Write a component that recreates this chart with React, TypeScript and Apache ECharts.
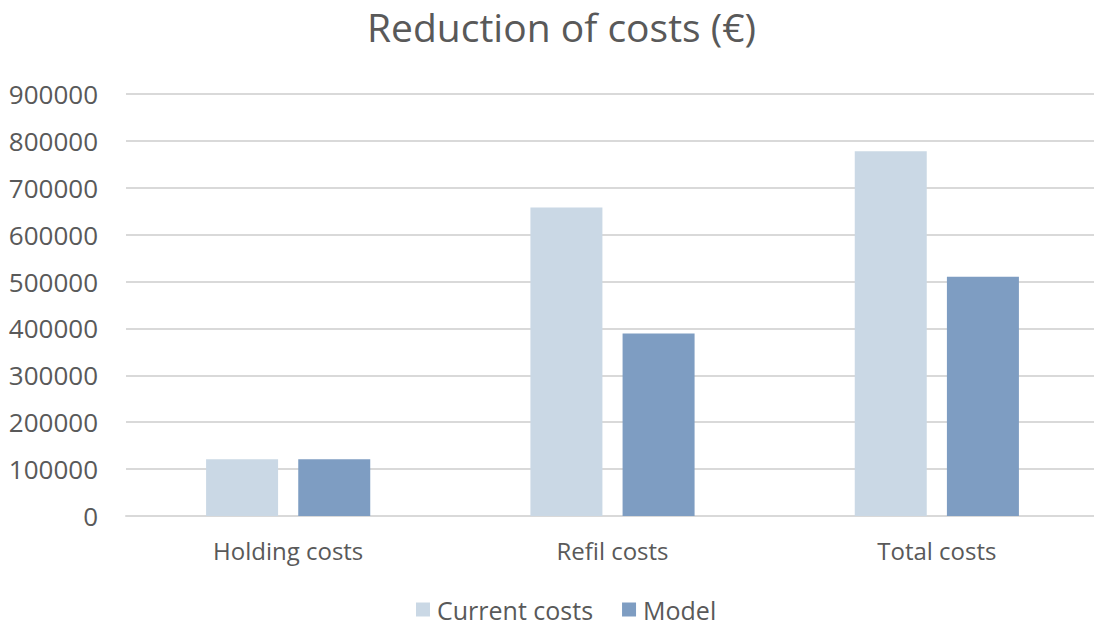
import React, { useEffect, useRef } from "react";
import * as echarts from "echarts";

const categories = ["Holding costs", "Refil costs", "Total costs"];
const currentCosts = [121000, 658000, 778000];
const modelCosts = [121000, 389000, 510000];
const seriesNames = ["Current costs", "Model"];

const FONT = "'Open Sans', 'Noto Sans', sans-serif";
const TEXT = "#595959";

export default function App() {
  const ref = useRef<HTMLDivElement>(null);

  useEffect(() => {
    if (!ref.current) return;
    const chart = echarts.init(ref.current, undefined, { renderer: "svg" });
    chart.setOption({
      animation: false,
      backgroundColor: "#ffffff",
      title: {
        text: "Reduction of costs (€)",
        left: 362,
        top: 2,
        textStyle: { fontFamily: FONT, fontSize: 39, fontWeight: "normal", color: TEXT },
      },
      legend: {
        data: seriesNames,
        bottom: 0,
        left: 411,
        icon: "rect",
        itemWidth: 14,
        itemHeight: 14,
        itemGap: 29,
        textStyle: { fontFamily: FONT, fontSize: 25, color: TEXT, padding: [0, 0, 0, 2] },
      },
      // the plot area runs a little past the right edge of the visible frame
      grid: { left: 126, width: 973, top: 94, bottom: 111, containLabel: false },
      xAxis: {
        type: "category",
        data: categories,
        axisLine: { lineStyle: { color: "#d9d9d9", width: 2 } },
        axisTick: { show: false },
        axisLabel: { fontFamily: FONT, fontSize: 24, color: TEXT, margin: 22 },
      },
      yAxis: {
        type: "value",
        min: 0,
        max: 900000,
        interval: 100000,
        axisLine: { show: false },
        axisTick: { show: false },
        splitLine: { lineStyle: { color: "#d9d9d9", width: 2 } },
        axisLabel: {
          fontFamily: FONT,
          fontSize: 26,
          color: TEXT,
          margin: 28,
          formatter: (v: number) => String(v),
        },
      },
      series: [
        {
          name: seriesNames[0],
          type: "bar",
          data: currentCosts,
          barWidth: "22.2%",
          barGap: "28%",
          itemStyle: { color: "#cad8e5" },
        },
        {
          name: seriesNames[1],
          type: "bar",
          data: modelCosts,
          barWidth: "22.2%",
          barGap: "28%",
          itemStyle: { color: "#7e9dc2" },
        },
      ],
    });
    return () => chart.dispose();
  }, []);

  return (
    <div
      style={{
        position: "fixed",
        left: 0,
        top: 0,
        width: 1094,
        height: 627,
        overflow: "hidden",
        background: "#ffffff",
      }}
    >
      <div ref={ref} style={{ width: 1110, height: 627 }} />
    </div>
  );
}
